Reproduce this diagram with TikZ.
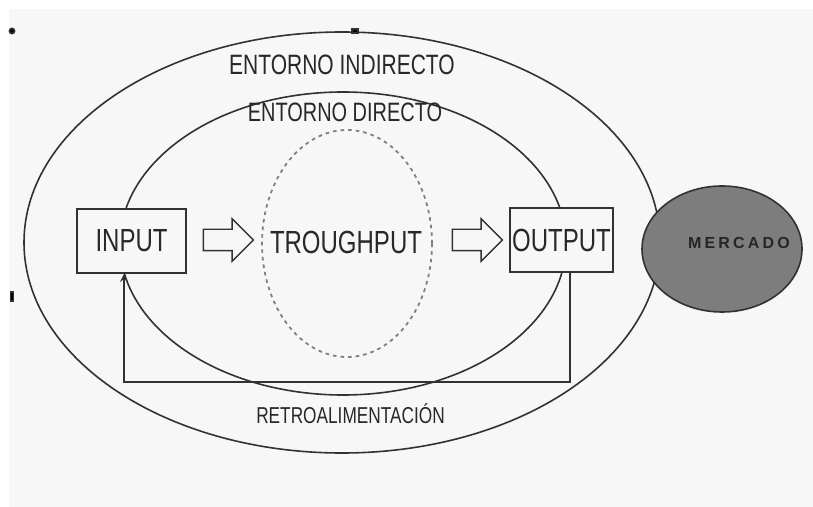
\documentclass[tikz,border=0pt]{standalone}
\usepackage{fontspec}
\setmainfont{Liberation Sans}[FakeStretch=0.75]
\newfontfamily\mercfont{Liberation Sans}[LetterSpace=20]
\usepackage{tikz}
\usepackage{xcolor}
\usetikzlibrary{
    arrows,
    shapes.geometric,
    shapes.arrows,
    positioning
}
\definecolor{bggris}{RGB}{247,247,247}
\definecolor{linea}{RGB}{50,50,50}
\definecolor{letra}{RGB}{40,40,40}
\definecolor{mercgris}{RGB}{125,125,125}

\begin{document}
\begin{tikzpicture}[x=0.5pt, y=-0.5pt, >=stealth,
    linea/.style={draw=linea, line width=0.8pt},
    caja/.style={linea, fill=bggris, rectangle, inner sep=0pt, minimum height=32pt, font=\fontsize{16}{18}\selectfont, text=letra},
    elip/.style={linea, ellipse, inner sep=0pt},
    flecha/.style={linea, line width=0.7pt, fill=bggris, single arrow, inner sep=0pt, minimum width=0pt,
        single arrow head extend=5.25pt, minimum height=25pt},
    rotulo/.style={text=letra, inner sep=0pt}]
                        \fill[white] (0,0) rectangle (813,507);
                        \fill[bggris] (9,9) rectangle (813,507);
                        \node[elip, minimum width=318pt, minimum height=210.5pt] (ind) at (342,242.5) {};
                        \node[elip, minimum width=223pt, minimum height=151.5pt] (dir) at (343,243.5) {};
                        \node[elip, draw=gray, line width=0.9pt, dash pattern=on 1.8pt off 2pt,
                            minimum width=85pt, minimum height=113.5pt] (tr) at (347,243.5) {};
                        \node[elip, fill=mercgris, minimum width=80pt, minimum height=63pt] (merc) at (722,249) {};
                        \node[rotulo, font=\mercfont\bfseries\fontsize{8}{9}\selectfont, text=black!85] (merct) at (739,243) {MERCADO};
                        \node[rotulo, font=\fontsize{14}{16}\selectfont] (indt) at (342,65) {ENTORNO INDIRECTO};
                        \node[rotulo, font=\fontsize{13.3}{15}\selectfont] (dirt) at (345,112) {ENTORNO DIRECTO};
                        \node[caja, minimum width=54.5pt] (in) at (131.5,241) {INPUT};
                        \node[caja, minimum width=51.5pt] (out) at (561.5,240) {OUTPUT};
                        \node[rotulo, font=\fontsize{16}{18}\selectfont] (trt) at (346,242) {TROUGHPUT};
                        \node[flecha] (f1) at (223,240) {\rule{0pt}{10pt}};
                        \node[flecha] (f2) at (472,240) {\rule{0pt}{10pt}};
                        \node[rotulo, font=\fontsize{11.5}{13}\selectfont] (ret) at (350.5,413.5) {RETROALIMENTACIÓN};
                        \coordinate (fbr) at (570,382);
                        \coordinate (fbl) at (124,382);
                        \draw[linea, ->] (out.south -| fbr) -- (fbr) -- (fbl) -- (in.south -| fbl);
                        % motas del escaneo
                        \fill[linea] (12,31) circle (1.3pt);
                        \fill[linea] (352,29) rectangle (358,33);
                        \fill[linea] (10.5,292) rectangle (13.5,301);
                    \end{tikzpicture}
\end{document}
